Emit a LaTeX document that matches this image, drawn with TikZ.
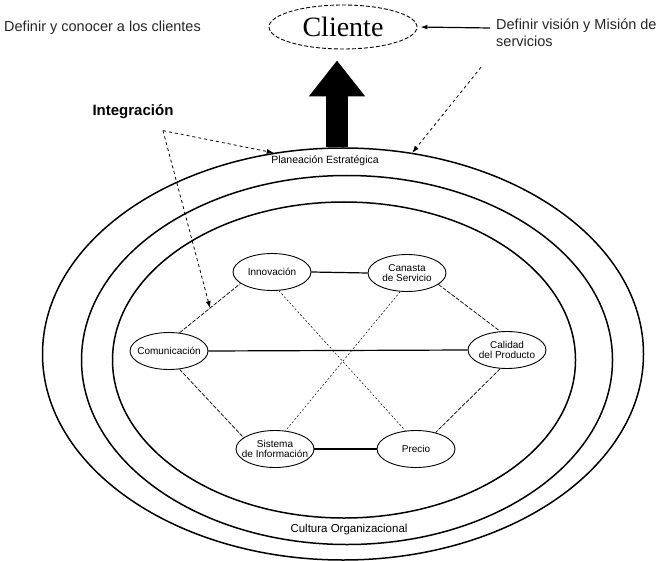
\documentclass[tikz,border=0pt]{standalone}
\usepackage{fontspec}
\setmainfont{Liberation Sans}
\newfontfamily\timesfont{Liberation Serif}
\usetikzlibrary{positioning, arrows.meta, shapes.geometric, calc}

\begin{document}
\begin{tikzpicture}[
    x=1pt, y=-1pt,
    ring/.style={ellipse, draw, line width=1.5pt, inner sep=0pt},
    factor/.style={ellipse, draw, line width=0.9pt, inner sep=-6pt, minimum width=78, minimum height=37, align=center, font=\fontsize{10}{10.5}\selectfont},
    note/.style={font=\fontsize{14.5}{17}\selectfont, text=black!85},
    link/.style={line width=1.2pt},
    side/.style={line width=0.7pt, dash pattern=on 4pt off 1.5pt},
    cross/.style={line width=0.5pt, dash pattern=on 2pt off 2pt},
    arr/.style={-{Latex[length=7pt, width=5pt]}, line width=0.8pt}
]
\useasboundingbox (0,0) rectangle (671,561);

\node[ring, minimum width=601, minimum height=412] (outer) at (343,354) {};
\node[ring, minimum width=531, minimum height=369] (middle) at (347,360) {};
\node[ring, minimum width=463, minimum height=316] (inner) at (344,360) {};

\node[font=\fontsize{10.5}{11}\selectfont] (planea) at (325,161) {Planeación Estratégica};
\node[font=\fontsize{11.5}{12}\selectfont] (cultura) at (349,530) {Cultura Organizacional};

\node[ellipse, draw, line width=0.9pt, dash pattern=on 4pt off 2pt, inner sep=0pt, minimum width=148, minimum height=44, font=\timesfont\fontsize{28}{30}\selectfont] (cliente) at (343,27) {Cliente};
\node[note, anchor=west, inner sep=0pt] (conocer) at (4,28) {Definir y conocer a los clientes};
\node[note, anchor=north west, align=left, inner sep=0pt] (vision) at (496,19) {Definir visión y Misión de\\servicios};
\node[font=\bfseries\fontsize{15}{16}\selectfont] (integ) at (133,112) {Integración};

\node[factor] (innov) at (272,272) {Innovación};
\node[factor] (cartera) at (407,273) {Canasta\\de Servicio};
\node[factor] (comun) at (169,351) {Comunicación};
\node[factor] (calidad) at (507,350) {Calidad\\del Producto};
\node[factor] (sistema) at (275,449) {Sistema\\de Información};
\node[factor] (precio) at (416,449) {Precio};

\draw[link] (innov.east) -- (cartera.west);
\draw[link] (comun.east) -- (calidad.west);
\draw[link] (sistema.east) -- (precio.west);
\draw[side] (comun.60) -- coordinate[pos=0.5] (hit) (innov.200);
\draw[side] (cartera.-20) -- (calidad.110);
\draw[side] (comun.300) -- (sistema.160);
\draw[side] (calidad.250) -- (precio.40);
\draw[cross] (innov.290) -- (precio.120);
\draw[cross] (cartera.250) -- (sistema.60);

\coordinate (base) at ($(outer.north)+(-6,0)$);
\coordinate (tip) at ($(cliente.south)+(-6,11)$);
\draw[line width=22pt, -{Triangle[length=36pt, width=54pt]}] (base) -- (tip);

\draw[arr, line width=1.2pt, shorten >=3pt] ($(vision.north west)+(-6,9)$) -- (cliente.east);
\draw[arr, dashed] ($(vision.south west)+(-15,20)$) -- (outer.71);

\coordinate (fork) at ($(integ.south)+(30,8)$);
\draw[arr, dashed] (fork) -- (outer.109);
\draw[arr, dashed] (fork) -- (hit);

\end{tikzpicture}
\end{document}
